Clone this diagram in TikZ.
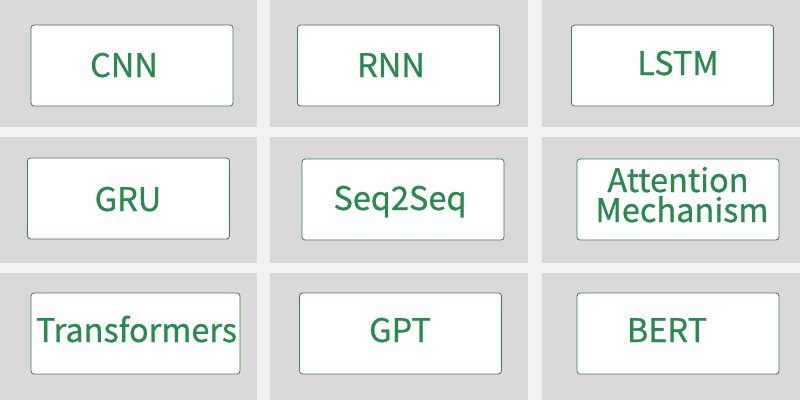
\documentclass[tikz,border=0pt]{standalone}
\usepackage{fontspec}
\setmainfont{Noto Sans CJK SC}[FakeBold=0.7]
\usepackage{xcolor}
\definecolor{cellgray}{HTML}{D9D9D9}
\definecolor{gapwhite}{HTML}{F2F2F2}
\definecolor{boxgreen}{HTML}{3A7D55}
\definecolor{txtgreen}{HTML}{2A8A4E}
\tikzset{
  modelbox/.style={draw=boxgreen, fill=white, line width=0.8pt, rounded corners=3pt,
    minimum width=202pt, minimum height=81pt, inner sep=0pt},
  modellbl/.style={text=txtgreen, anchor=base, inner sep=0pt,
    text height=23pt, text depth=4pt, font=\fontsize{32.5}{30}\selectfont}
}

\begin{document}
\begin{tikzpicture}[x=1pt, y=-1pt]
    % fond gris et bandes blanches
    \fill[cellgray] (0,0) rectangle (800,400);
    \useasboundingbox (0,0) rectangle (800,400);
    \fill[gapwhite] (257,0) rectangle (270,400);
    \fill[gapwhite] (528,0) rectangle (542,400);
    \fill[gapwhite] (0,127) rectangle (800,137);
    \fill[gapwhite] (0,263) rectangle (800,273);
    % premiere ligne
    \node[modelbox] (cnn) at (132,65.5) {};
    \node[modelbox] (rnn) at (398.5,65.5) {};
    \node[modelbox] (lstm) at (672.5,65.5) {};
    \node[modellbl] (cnnlbl) at (124,77) {CNN};
    \node[modellbl] (rnnlbl) at (391,77) {RNN};
    \node[modellbl] (lstmlbl) at (678,75) {LSTM};
    % deuxieme ligne
    \node[modelbox] (gru) at (128.5,198.5) {};
    \node[modelbox] (seq) at (403,199.5) {};
    \node[modelbox] (attn) at (678,199.5) {};
    \node[modellbl] (grulbl) at (128,211) {GRU};
    \node[modellbl] (seqlbl) at (400,210) {Seq2Seq};
    \node[modellbl, text depth=0pt] (attnlbl) at (678,192) {Attention};
    \node[modellbl, text height=22pt] (mechlbl) at (682,222) {Mechanism};
    % troisieme ligne
    \node[modelbox, minimum width=209pt] (trf) at (135.5,333.5) {};
    \node[modelbox] (gpt) at (400.5,333.5) {};
    \node[modelbox] (bert) at (678,333.5) {};
    \node[modellbl] (trflbl) at (136.5,342) {Transformers};
    \node[modellbl] (gptlbl) at (400,342) {GPT};
    \node[modellbl] (bertlbl) at (667,342) {BERT};
\end{tikzpicture}
\end{document}
